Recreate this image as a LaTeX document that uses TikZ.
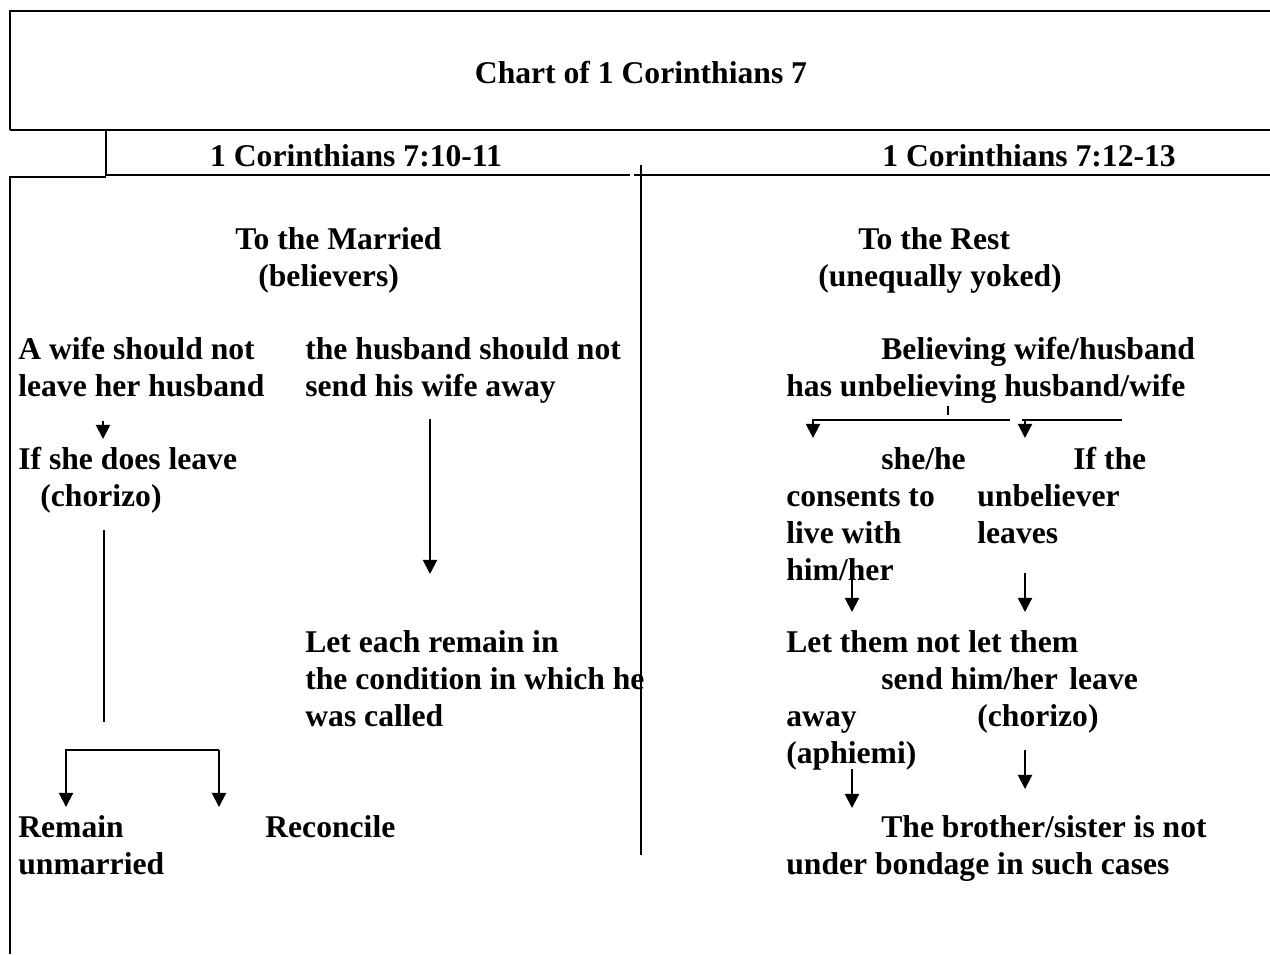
\documentclass[tikz,border=0pt]{standalone}
\usepackage{fontspec}
\setmainfont{Liberation Serif}
\usetikzlibrary{arrows.meta}

\tikzstyle{txt} = [anchor=base west,inner sep=0pt,font=\fontsize{18pt}{21pt}\selectfont\bfseries]
\tikzstyle{heading} = [txt,anchor=base]
\tikzstyle{rule} = [draw,line width=1.2pt]
\tikzstyle{arrowdecorate} = [->,>={Triangle[length=8pt,width=8pt]},line width=1.1pt]

\begin{document}
\begin{tikzpicture}[x=0.02cm,y=-0.02cm]
    \useasboundingbox (0,0) rectangle (1270,954);

    % frame
    \coordinate (topL) at (10,11);
    \coordinate (topR) at (1270,11);
    \coordinate (midL) at (10,130);
    \coordinate (midR) at (1270,130);
    \coordinate (hdrL) at (106,130);
    \coordinate (hdrB) at (106,175);
    \coordinate (gapA) at (630,175);
    \coordinate (gapB) at (634,175);
    \coordinate (hdrR) at (1270,175);
    \coordinate (bodyL) at (10,177);
    \coordinate (bodyM) at (106,177);
    \coordinate (botL) at (10,954);
    \coordinate (divT) at (641,165);
    \coordinate (divB) at (641,855);

    \path[rule] (midL) -- (topL) -- (topR);
    \path[rule] (midL) -- (midR);
    \path[rule] (hdrL) -- (hdrB) -- (gapA);
    \path[rule] (gapB) -- (hdrR);
    \path[rule] (bodyM) -- (bodyL) -- (botL);
    \path[rule] (divT) -- (divB);

    % headings
    \node[heading] (title) at (641,83) {Chart of 1 Corinthians 7};
    \node[heading] (leftHdr) at (356,166) {1 Corinthians 7:10-11};
    \node[heading] (rightHdr) at (1029,166) {1 Corinthians 7:12-13};

    % text lines
    \foreach \name/\x/\y/\line in {
      married1/235/249/{To the Married}, married2/258/286/{(believers)},
      rest1/858/249/{To the Rest}, rest2/818/286/{(unequally yoked)},
      wife1/18/359/{A wife should not}, wife2/18/396/{leave her husband},
      husb1/305/359/{the husband should not}, husb2/305/396/{send his wife away},
      believ1/881/359/{Believing wife/husband}, believ2/786/396/{has unbelieving husband/wife},
      leave1/18/469/{If she does leave}, leave2/40/506/{(chorizo)},
      cons1/881/469/{she/he}, cons2/786/506/{consents to}, cons3/786/543/{live with}, cons4/786/580/{him/her},
      unbel1/1073/469/{If the}, unbel2/977/506/{unbeliever}, unbel3/977/543/{leaves},
      remain1/305/652/{Let each remain in}, remain2/305/689/{the condition in which he}, remain3/305/726/{was called},
      send1/786/652/{Let them not}, send2/881/689/{send him/her}, send3/786/726/{away}, send4/786/763/{(aphiemi)},
      let1/968/652/{let them}, let2/1069/689/{leave}, let3/977/726/{(chorizo)},
      unmar1/18/837/{Remain}, unmar2/18/874/{unmarried},
      recon/265/837/{Reconcile},
      bond1/881/837/{The brother/sister is not}, bond2/786/874/{under bondage in such cases}}
    {
      \node[txt] (\name) at (\x,\y) {\line};
    }

    % connector points
    \foreach \name/\x/\y in {
      wifeA/103/421, wifeB/103/439, husbA/430/419, husbB/430/574,
      leaveA/104/530, leaveB/104/722, brkL/66/750, brkR/219/750,
      remTip/66/807, recTip/219/807,
      tickA/948/406, tickB/948/415, forkL/813/420, forkR/1122/420,
      forkGa/1010/420, forkGb/1022/420, forkM/1025/420,
      consTip/813/438, unbelTip/1025/438,
      consA/852/578, consB/852/612, unbelA/1025/573, unbelB/1025/612,
      letA/1025/750, letB/1025/789, sendA/852/769, sendB/852/808}
    {
      \coordinate (\name) at (\x,\y);
    }

    % left side
    \draw[arrowdecorate] (wifeA) -- (wifeB);
    \draw[arrowdecorate] (husbA) -- (husbB);
    \draw[line width=1.1pt] (leaveA) -- (leaveB);
    \draw[arrowdecorate] (brkR) -- (brkL) -- (remTip);
    \draw[arrowdecorate] (brkR) -- (recTip);

    % right side
    \draw[line width=0.8pt] (tickA) -- (tickB);
    \draw[arrowdecorate] (forkGa) -- (forkL) -- (consTip);
    \draw[line width=1.1pt] (forkGb) -- (forkR);
    \draw[arrowdecorate] (forkM) -- (unbelTip);
    \draw[arrowdecorate] (consA) -- (consB);
    \draw[arrowdecorate] (unbelA) -- (unbelB);
    \draw[arrowdecorate] (letA) -- (letB);
    \draw[arrowdecorate] (sendA) -- (sendB);

\end{tikzpicture}
\end{document}
